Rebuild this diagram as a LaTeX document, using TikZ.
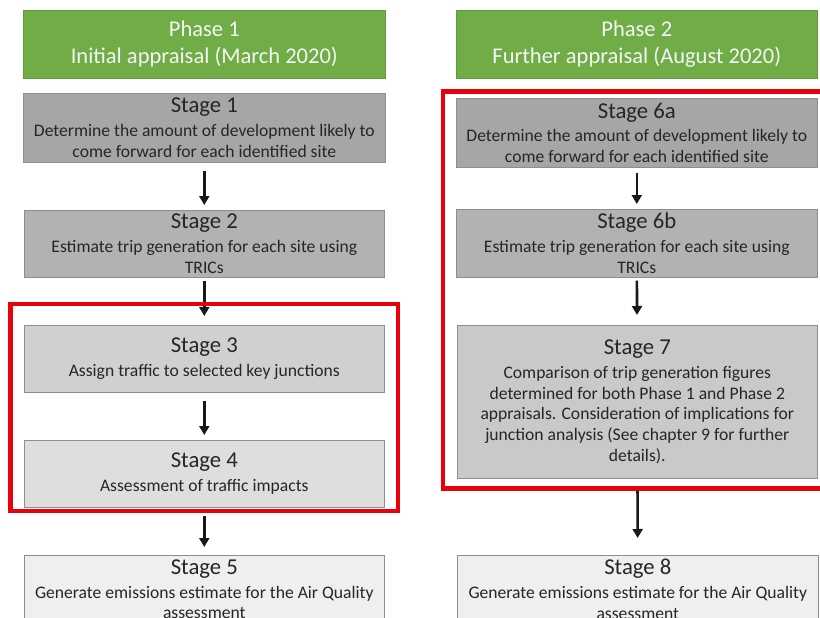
\documentclass[tikz,border=0pt]{standalone}
\usepackage{fontspec}
\setmainfont{Carlito}
\usetikzlibrary{arrows.meta}

\definecolor{hdrgreen}{HTML}{70AD47}
\definecolor{hdredge}{HTML}{5F9A3C}
\definecolor{hdrtext}{HTML}{F4F4F4}
\definecolor{stagetext}{HTML}{262626}
\definecolor{stageedge}{HTML}{8E8E8E}
\definecolor{greyA}{HTML}{A6A6A6}
\definecolor{greyB}{HTML}{B2B2B2}
\definecolor{greyC}{HTML}{D0D0D0}
\definecolor{greyD}{HTML}{DEDEDE}
\definecolor{greyE}{HTML}{EFEFEF}
\definecolor{greyF}{HTML}{C9C9C9}
\definecolor{frame}{HTML}{E8000B}

% title line of a stage box followed by its description
\newcommand\stagetext[2]{{\fontsize{22.7}{24}\selectfont #1}\\[3pt]#2}

\tikzset{
  phase/.style={fill=hdrgreen, draw=hdredge, line width=0.6pt, text=hdrtext,
    font=\fontsize{22.5}{27}\selectfont, align=center, anchor=north west,
    minimum height=68pt, inner sep=0pt},
  stagebox/.style={draw=stageedge, line width=0.6pt, text=stagetext,
    font=\fontsize{17.6}{20.8}\selectfont, align=center, anchor=north west,
    inner sep=0pt},
  arr/.style={line width=2.6pt, draw=black!90,
    -{Triangle[width=10pt,length=9pt]}},
  redframe/.style={draw=frame, line width=4.5pt}
}

\begin{document}
\begin{tikzpicture}[x=1pt,y=-1pt]
\useasboundingbox[fill=white] (0,0) rectangle (820,618);

% phase headers
\node[phase, minimum width=362pt] (p1) at (23,10)
  {Phase 1\\Initial appraisal (March 2020)};
\node[phase, minimum width=361pt] (p2) at (456,10)
  {Phase 2\\Further appraisal (August 2020)};

% phase 1 stages
\node[stagebox, fill=greyA, minimum width=362pt, minimum height=69pt] (s1) at (23,93)
  {\stagetext{Stage 1}{Determine the amount of development likely to\\come forward for each identified site}};
\node[stagebox, fill=greyB, minimum width=360pt, minimum height=67pt] (s2) at (24,210)
  {\stagetext{Stage 2}{Estimate trip generation for each site using\\TRICs}};
\node[stagebox, fill=greyC, minimum width=360pt, minimum height=67pt] (s3) at (24,325)
  {\stagetext{Stage 3}{Assign traffic to selected key junctions}};
\node[stagebox, fill=greyD, minimum width=360pt, minimum height=67pt] (s4) at (24,440)
  {\stagetext{Stage 4}{Assessment of traffic impacts}};
\node[stagebox, fill=greyE, minimum width=360pt, minimum height=68pt] (s5) at (24,555)
  {\stagetext{Stage 5}{Generate emissions estimate for the Air Quality\\assessment}};

% phase 2 stages
\node[stagebox, fill=greyA, minimum width=361pt, minimum height=69pt] (s6a) at (456,98)
  {\stagetext{Stage 6a}{Determine the amount of development likely to\\come forward for each identified site}};
\node[stagebox, fill=greyB, minimum width=361pt, minimum height=68pt] (s6b) at (456,209)
  {\stagetext{Stage 6b}{Estimate trip generation for each site using\\TRICs}};
\node[stagebox, fill=greyF, minimum width=360pt, minimum height=153pt] (s7) at (457,325)
  {\stagetext{Stage 7}{Comparison of trip generation figures\\determined for both Phase 1 and Phase 2\\appraisals. Consideration of implications for\\junction analysis (See chapter 9 for further\\details).}};
\node[stagebox, fill=greyE, minimum width=361pt, minimum height=68pt] (s8) at (457,555)
  {\stagetext{Stage 8}{Generate emissions estimate for the Air Quality\\assessment}};

% flow arrows
\draw[arr, shorten <=8pt, shorten >=5pt] (s1) -- (s2);
\draw[arr, shorten <=3pt, shorten >=9pt] (s2) -- (s3);
\draw[arr, shorten <=8pt, shorten >=5pt] (s3) -- (s4);
\draw[arr, shorten <=8pt, shorten >=8pt] (s4) -- (s5);
\draw[arr, shorten <=5pt, shorten >=5pt] (s6a) -- (s6b);
\draw[arr, shorten <=3pt, shorten >=10pt] (s6b) -- (s7);
\draw[arr, shorten <=10pt, shorten >=17pt] (s7) -- (s8);

% highlight frames
\draw[redframe] (10.5,304) rectangle (398,511);
\draw[redframe] (443,91.5) rectangle (830,488.5);
\end{tikzpicture}
\end{document}
